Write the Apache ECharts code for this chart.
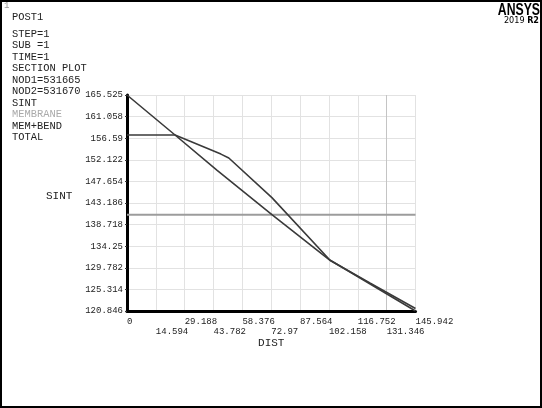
<!DOCTYPE html>
<html>
<head>
<meta charset="utf-8">
<script src="https://cdn.jsdelivr.net/npm/echarts@6/dist/echarts.min.js"></script>
<style>
html, body { margin: 0; padding: 0; background: #fff; }
#chart { width: 542px; height: 408px; }
</style>
</head>
<body>
<div id="chart"></div>
<script>
// section plot values
const yMin = 120.846
const yMax = 165.525
const xMax = 145.942
const yTicks = ['120.846', '125.314', '129.782', '134.25', '138.718', '143.186', '147.654', '152.122', '156.59', '161.058', '165.525']
const xTicks = ['0', '14.594', '29.188', '43.782', '58.376', '72.97', '87.564', '102.158', '116.752', '131.346', '145.942']

const membraneDist = [0, 145.942]
const membraneVal = [140.73, 140.73]

const memBendDist = [0, 24.3, 45.45, 73.3, 102.4, 123.1, 145.942]
const memBendVal = [165.525, 157.25, 150.0, 140.77, 131.4, 126.6, 121.35]

const totalDist = [0, 24.3, 47.5, 51.5, 73.3, 102.6, 145.942]
const totalVal = [157.25, 157.25, 153.3, 152.5, 144.3, 131.4, 120.846]

const pairs = (xs, ys) => xs.map((x, i) => [x, ys[i]])

const mono = '"Liberation Mono", "DejaVu Sans Mono", monospace'
const yStep = (yMax - yMin) / 10
const xStep = xMax / 10

const infoLines = ['STEP=1', 'SUB =1', 'TIME=1', 'SECTION PLOT', 'NOD1=531665', 'NOD2=531670', 'SINT', 'MEMBRANE', 'MEM+BEND', 'TOTAL']

let graphics = [
  { type: 'rect', shape: { x: 1, y: 1, width: 540, height: 406 }, style: { fill: 'none', stroke: '#000', lineWidth: 2 } },
  { type: 'text', left: 4, top: 1, style: { text: '1', font: '9px ' + mono, fill: '#999' } },
  { type: 'text', left: 12, top: 12, style: { text: 'POST1', font: '10.4px ' + mono, fill: '#222' } },
  { type: 'text', left: 46, top: 191, style: { text: 'SINT', font: '11px ' + mono, fill: '#222' } },
  { type: 'text', right: 2, top: 2, scaleX: 0.72, originX: 540, style: { text: 'ANSYS', font: 'bold 17px "Liberation Sans", sans-serif', fill: '#000' } },
  {
    type: 'text', right: 3, top: 16,
    style: {
      text: '{a|2019 }{b|R2}',
      rich: {
        a: { font: '9px "DejaVu Sans Condensed", "DejaVu Sans", sans-serif', fill: '#000' },
        b: { font: 'bold 9px "DejaVu Sans Condensed", "DejaVu Sans", sans-serif', fill: '#000' }
      }
    }
  }
]
infoLines.forEach((t, i) => {
  graphics.push({
    type: 'text', left: 12, top: 29 + i * 11.5,
    style: { text: t, font: '10.4px ' + mono, fill: t === 'MEMBRANE' ? '#aaa' : '#222' }
  })
})

const xSplitColors = xTicks.map((t, i) => (i === 9 ? '#c4c4c4' : '#e2e2e2'))

const xLabelStyle = {
  interval: 0,
  hideOverlap: false,
  align: 'left',
  fontFamily: mono,
  fontSize: 9,
  color: '#222',
  showMinLabel: true,
  showMaxLabel: true
}

const chart = echarts.init(document.getElementById('chart'), null, { renderer: 'canvas' })
chart.setOption({
  backgroundColor: '#fff',
  animation: false,
  grid: { left: 127, top: 95, right: 126.5, bottom: 97, containLabel: false },
  graphic: graphics,
  xAxis: [
    {
      type: 'value',
      min: 0,
      max: xMax,
      interval: xStep,
      name: 'DIST',
      nameLocation: 'middle',
      nameGap: 27,
      nameTextStyle: { fontFamily: mono, fontSize: 11, color: '#222' },
      axisLine: { lineStyle: { color: '#000', width: 3 } },
      axisTick: { show: false },
      axisLabel: Object.assign({}, xLabelStyle, {
        margin: 6,
        formatter (v) {
          const i = Math.round(v / xStep)
          return i % 2 === 0 ? xTicks[i] : ''
        }
      }),
      splitLine: { show: true, lineStyle: { color: xSplitColors, width: 1 } }
    },
    {
      type: 'value',
      position: 'bottom',
      min: 0,
      max: xMax,
      interval: xStep,
      axisLine: { show: false },
      axisTick: { show: false },
      splitLine: { show: false },
      axisLabel: Object.assign({}, xLabelStyle, {
        margin: 16,
        formatter (v) {
          const i = Math.round(v / xStep)
          return i % 2 === 1 ? xTicks[i] : ''
        }
      })
    }
  ],
  yAxis: {
    type: 'value',
    min: yMin,
    max: yMax,
    interval: yStep,
    axisLine: { show: true, lineStyle: { color: '#000', width: 3 } },
    axisTick: { show: true, length: 2, lineStyle: { color: '#333' } },
    axisLabel: {
      margin: 4,
      fontFamily: mono,
      fontSize: 9,
      color: '#222',
      formatter (v) {
        return yTicks[Math.round((v - yMin) / yStep)]
      }
    },
    splitLine: { show: true, lineStyle: { color: '#e2e2e2', width: 1 } }
  },
  series: [
    {
      name: 'MEMBRANE',
      type: 'line',
      symbol: 'none',
      data: pairs(membraneDist, membraneVal),
      lineStyle: { color: '#9c9c9c', width: 2 },
      z: 3
    },
    {
      name: 'MEM+BEND',
      type: 'line',
      symbol: 'none',
      data: pairs(memBendDist, memBendVal),
      lineStyle: { color: '#3a3a3a', width: 1.6 },
      z: 4
    },
    {
      name: 'TOTAL',
      type: 'line',
      symbol: 'none',
      data: pairs(totalDist, totalVal),
      lineStyle: { color: '#3a3a3a', width: 1.6 },
      z: 4
    }
  ]
})
</script>
</body>
</html>
